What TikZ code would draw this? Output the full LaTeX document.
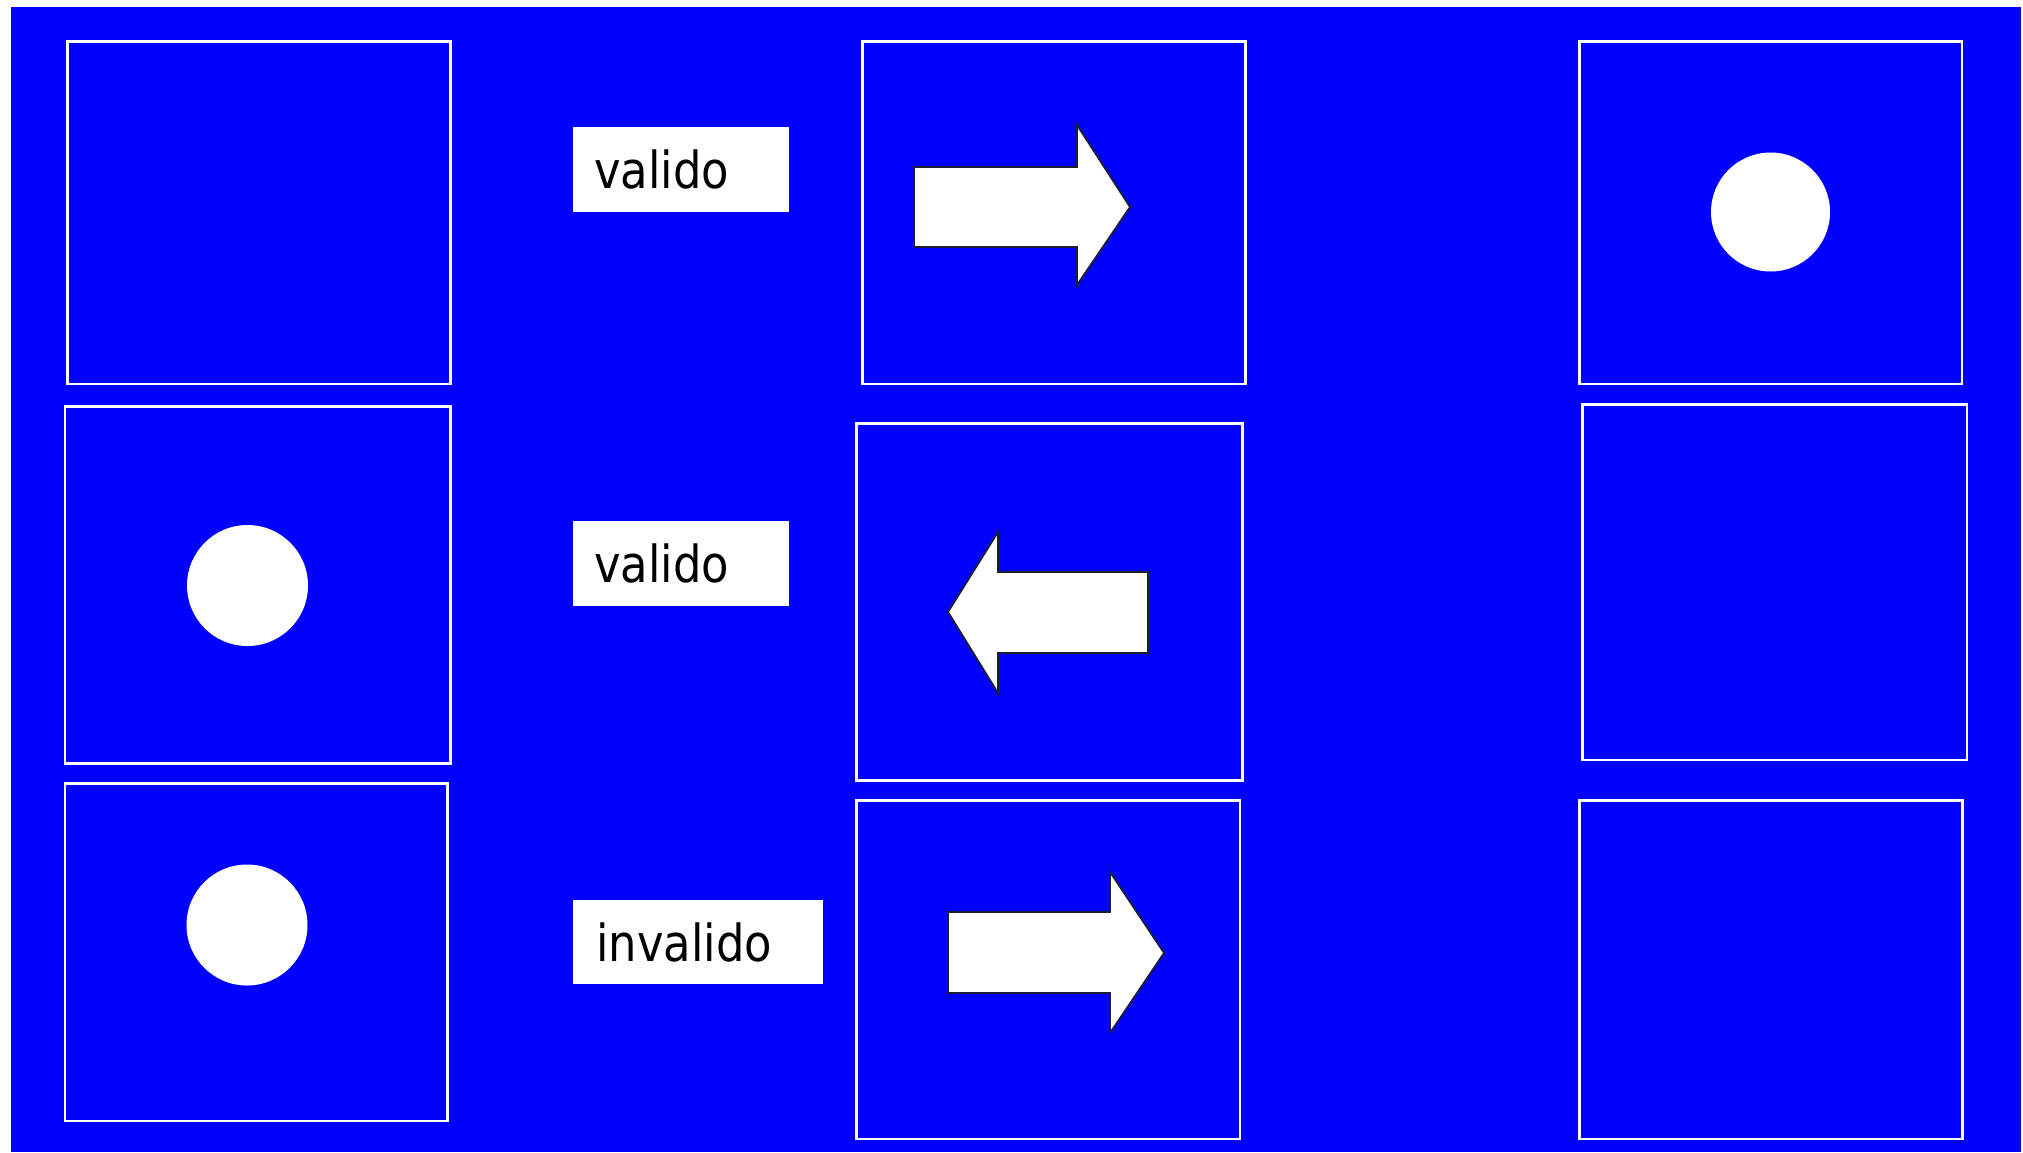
\documentclass[tikz,border=0pt]{standalone}
\usepackage{fontspec}
\setmainfont{DejaVu Sans}[FakeStretch=0.88]
\definecolor{bgblue}{RGB}{0,0,255}
\definecolor{arrowedge}{RGB}{30,30,50}
\tikzset{
  cell/.style={draw=white, line width=2.7pt},
  dot/.style={fill=white},
  labelbox/.style={fill=white},
  labeltext/.style={anchor=base west, inner sep=0pt, font=\fontsize{51}{56}\selectfont, text=black},
  bigarrow/.style={fill=white, draw=arrowedge, line width=1.8pt, line join=miter}
}
\begin{document}
\begin{tikzpicture}[x=1pt,y=-1pt]
\useasboundingbox (0,0) rectangle (2023,1152);
\fill[white] (0,0) rectangle (2023,1152);
\fill[bgblue] (11,7) rectangle (2021,1152);
% column 1
\draw[cell] (67.5,41.5) rectangle (450.5,384);
\draw[cell] (65,406.5) rectangle (450.5,763.5);
\draw[cell] (65,783.5) rectangle (447.5,1121);
% column 2
\draw[cell] (862.5,41.5) rectangle (1245.5,384);
\draw[cell] (856.5,423.5) rectangle (1242.5,780.5);
\draw[cell] (856.5,800.5) rectangle (1240,1139);
% column 3
\draw[cell] (1579.5,41.5) rectangle (1962,384);
\draw[cell] (1582.5,404.5) rectangle (1967,760);
\draw[cell] (1579.5,800.5) rectangle (1962.5,1139);
% circles
\fill[dot] (1770.5,212) circle (59.5);
\fill[dot] (247.5,585.5) circle (60.5);
\fill[dot] (247,925) circle (60.5);
% labels
\fill[labelbox] (573,127) rectangle (789,212);
\node[labeltext] (l1) at (594,188) {valido};
\fill[labelbox] (573,521) rectangle (789,606);
\node[labeltext] (l2) at (594,582) {valido};
\fill[labelbox] (573,900) rectangle (823,984);
\node[labeltext] (l3) at (596,961) {invalido};
% arrows
\draw[bigarrow] (914,167) -- (1077,167) -- (1077,125) -- (1130,207) -- (1077,285) -- (1077,247) -- (914,247) -- cycle;
\draw[bigarrow] (1148,572) -- (998,572) -- (998,532) -- (948,612) -- (998,693) -- (998,653) -- (1148,653) -- cycle;
\draw[bigarrow] (948,912) -- (1110,912) -- (1110,872) -- (1164,953) -- (1110,1033) -- (1110,993) -- (948,993) -- cycle;
\end{tikzpicture}
\end{document}
